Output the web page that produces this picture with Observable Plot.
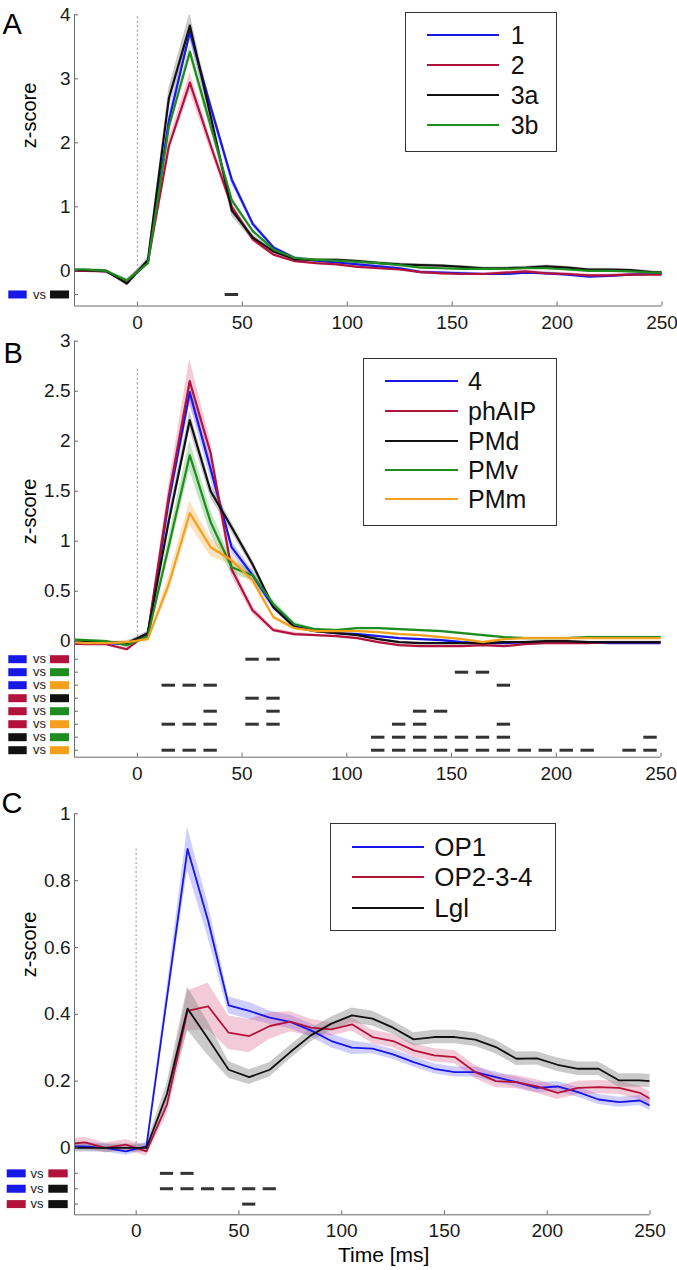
<!DOCTYPE html>
<html><head><meta charset="utf-8">
<script src="https://cdn.jsdelivr.net/npm/d3@7"></script>
<script src="https://cdn.jsdelivr.net/npm/@observablehq/plot@0.6"></script>
<style>
body{margin:0;background:#fff;font-family:"Liberation Sans",Arial,sans-serif}
#root{position:relative;width:677px;height:1270px;overflow:hidden;background:#fff}
.panel{position:absolute;left:0}
.legend{position:absolute;box-sizing:border-box;border:1px solid #333;background:#fff}
.lrow{position:absolute;left:0;right:0;height:30px;line-height:30px;color:#111}
.lline{position:absolute;top:14px;height:2.2px}
.ltext{position:absolute;top:0;white-space:nowrap}
</style></head><body><div id="root"></div><script>
// ---------------- data ----------------
const time = [-35,-25,-15,-5,5,15,25,35,45,55,65,75,85,95,105,115,125,135,145,155,165,175,185,195,205,215,225,235,245,255];
const xTicks = [0,50,100,150,200,250];

// Panel A
const aLabels = ["1","2","3a","3b"];
const aColors = ["blue","red","black","green"];
const a1  = [0.01,0.01,-0.01,-0.17,0.13,2.35,3.73,2.55,1.42,0.73,0.36,0.20,0.16,0.13,0.10,0.07,0.04,-0.02,-0.03,-0.04,-0.05,-0.05,-0.03,-0.04,-0.06,-0.09,-0.08,-0.06,-0.05,-0.05];
const a2  = [0.00,0.00,-0.01,-0.16,0.14,1.95,2.94,1.95,1.00,0.49,0.25,0.15,0.12,0.10,0.06,0.04,0.02,-0.02,-0.04,-0.05,-0.05,-0.03,-0.01,-0.04,-0.05,-0.07,-0.07,-0.06,-0.06,-0.06];
const a3a = [0.01,0.01,0.00,-0.20,0.17,2.70,3.83,2.40,0.94,0.52,0.30,0.18,0.17,0.17,0.15,0.12,0.10,0.09,0.08,0.06,0.04,0.04,0.05,0.07,0.05,0.02,0.02,0.01,-0.02,-0.03];
const a3b = [0.02,0.02,0.00,-0.15,0.12,2.25,3.42,2.25,1.10,0.62,0.33,0.20,0.17,0.16,0.14,0.12,0.09,0.05,0.04,0.03,0.03,0.03,0.04,0.04,0.02,0.00,0.00,-0.01,-0.03,-0.03];
const sa1  = [0.02,0.02,0.02,0.03,0.03,0.10,0.12,0.10,0.08,0.05,0.03,0.02,0.02,0.02,0.02,0.02,0.02,0.02,0.02,0.02,0.02,0.02,0.02,0.02,0.02,0.02,0.02,0.02,0.02,0.02];
const sa2  = [0.02,0.02,0.02,0.03,0.03,0.10,0.15,0.10,0.06,0.04,0.03,0.02,0.02,0.02,0.02,0.02,0.02,0.02,0.02,0.02,0.02,0.02,0.02,0.02,0.02,0.02,0.02,0.02,0.02,0.02];
const sa3a = [0.02,0.02,0.02,0.04,0.04,0.16,0.20,0.14,0.09,0.05,0.03,0.02,0.02,0.02,0.02,0.02,0.02,0.02,0.02,0.02,0.02,0.02,0.02,0.02,0.02,0.02,0.02,0.02,0.02,0.02];
const sa3b = [0.02,0.02,0.02,0.03,0.03,0.08,0.10,0.08,0.05,0.03,0.02,0.02,0.02,0.02,0.02,0.02,0.02,0.02,0.02,0.02,0.02,0.02,0.02,0.02,0.02,0.02,0.02,0.02,0.02,0.02];
const aYTicks = [0,1,2,3,4];
const aRows = [-0.37];
const aPairs = [["blue","black"]];
const aSig = [[45]];

// Panel B
const bLabels = ["4","phAIP","PMd","PMv","PMm"];
const bColors = ["blue","red","black","green","orange"];
const b4    = [0.00,-0.01,-0.02,-0.03,0.06,1.40,2.49,1.72,0.94,0.66,0.34,0.15,0.10,0.08,0.07,0.05,0.03,0.02,0.01,-0.01,-0.02,-0.02,-0.01,-0.01,-0.01,-0.01,-0.02,-0.02,-0.02,-0.02];
const bPhAIP= [-0.02,-0.03,-0.03,-0.08,0.08,1.45,2.60,1.88,0.72,0.31,0.11,0.07,0.06,0.05,0.03,-0.01,-0.04,-0.05,-0.05,-0.05,-0.04,-0.05,-0.03,-0.02,-0.02,-0.02,-0.01,-0.01,-0.01,-0.01];
const bPMd  = [0.00,-0.01,-0.01,-0.02,0.08,1.20,2.21,1.50,1.14,0.77,0.34,0.14,0.10,0.08,0.06,0.02,-0.01,-0.02,-0.02,-0.02,-0.02,-0.01,-0.01,0.00,0.00,-0.01,-0.01,-0.01,-0.01,-0.01];
const bPMv  = [0.02,0.01,0.00,-0.04,0.05,0.95,1.86,1.19,0.74,0.66,0.37,0.17,0.12,0.11,0.13,0.13,0.12,0.11,0.10,0.08,0.06,0.04,0.03,0.03,0.03,0.04,0.04,0.04,0.04,0.04];
const bPMm  = [0.00,-0.02,-0.02,-0.01,0.02,0.57,1.28,0.94,0.81,0.61,0.24,0.13,0.10,0.10,0.10,0.09,0.07,0.06,0.04,0.02,-0.01,0.02,0.03,0.03,0.03,0.03,0.03,0.03,0.03,0.03];
const sb4    = [0.01,0.01,0.01,0.02,0.02,0.10,0.12,0.10,0.06,0.05,0.03,0.02,0.01,0.01,0.01,0.01,0.01,0.01,0.01,0.01,0.01,0.01,0.01,0.01,0.01,0.01,0.01,0.01,0.01,0.01];
const sbPhAIP= [0.01,0.01,0.01,0.02,0.02,0.12,0.22,0.12,0.07,0.04,0.02,0.02,0.01,0.01,0.01,0.01,0.01,0.01,0.01,0.01,0.01,0.01,0.01,0.01,0.01,0.01,0.01,0.01,0.01,0.01];
const sbPMd  = [0.01,0.01,0.01,0.02,0.02,0.07,0.09,0.07,0.05,0.04,0.02,0.02,0.01,0.01,0.01,0.01,0.01,0.01,0.01,0.01,0.01,0.01,0.01,0.01,0.01,0.01,0.01,0.01,0.01,0.01];
const sbPMv  = [0.01,0.01,0.01,0.02,0.02,0.10,0.15,0.12,0.07,0.05,0.04,0.02,0.01,0.01,0.01,0.01,0.01,0.01,0.01,0.01,0.01,0.01,0.01,0.01,0.01,0.01,0.01,0.01,0.01,0.01];
const sbPMm  = [0.01,0.01,0.01,0.02,0.02,0.08,0.12,0.09,0.05,0.04,0.02,0.02,0.01,0.01,0.01,0.01,0.01,0.01,0.01,0.01,0.01,0.01,0.01,0.01,0.01,0.01,0.01,0.01,0.01,0.01];
const bYTicks = [0,0.5,1,1.5,2,2.5,3];
const bRows = [-0.18,-0.31,-0.44,-0.57,-0.70,-0.83,-0.96,-1.09];
const bPairs = [["blue","red"],["blue","green"],["blue","orange"],["red","black"],["red","green"],["red","orange"],["black","green"],["black","orange"]];
const bSig = [
  [55,65],
  [155,165],
  [15,25,35,175],
  [55,65],
  [35,65,135,145],
  [15,25,35,55,65,125,135,175],
  [115,125,135,145,155,165,175,245],
  [15,25,35,115,125,135,145,155,165,175,185,195,205,215,235,245]
];

// Panel C
const cLabels = ["OP1","OP2-3-4","Lgl"];
const cColors = ["blue","red","black"];
const cOP1   = [0.005,0.005,0.0,-0.01,0.005,0.45,0.895,0.68,0.427,0.41,0.39,0.377,0.352,0.32,0.30,0.297,0.28,0.257,0.237,0.227,0.227,0.212,0.197,0.18,0.184,0.167,0.145,0.137,0.142,0.112];
const cOP234 = [0.01,0.017,0.0,0.01,-0.01,0.13,0.41,0.424,0.345,0.335,0.365,0.378,0.36,0.355,0.37,0.332,0.32,0.292,0.277,0.272,0.227,0.20,0.197,0.184,0.165,0.18,0.182,0.18,0.165,0.13];
const cLgl   = [0.0,0.0,0.0,0.0,0.0,0.162,0.417,0.327,0.234,0.212,0.234,0.287,0.337,0.372,0.397,0.387,0.36,0.325,0.332,0.332,0.324,0.302,0.267,0.268,0.249,0.237,0.237,0.202,0.202,0.198];
const scOP1   = [0.012,0.012,0.012,0.012,0.012,0.03,0.065,0.05,0.025,0.025,0.02,0.02,0.02,0.02,0.02,0.015,0.015,0.015,0.015,0.015,0.015,0.015,0.015,0.015,0.015,0.015,0.015,0.015,0.015,0.015];
const scOP234 = [0.015,0.015,0.015,0.015,0.015,0.03,0.06,0.07,0.05,0.05,0.04,0.03,0.025,0.02,0.02,0.02,0.02,0.02,0.02,0.02,0.02,0.02,0.02,0.02,0.02,0.02,0.02,0.02,0.02,0.02];
const scLgl   = [0.012,0.012,0.012,0.012,0.012,0.03,0.065,0.05,0.025,0.022,0.022,0.02,0.02,0.02,0.022,0.022,0.02,0.02,0.02,0.02,0.02,0.02,0.02,0.02,0.02,0.02,0.02,0.02,0.02,0.02];
const cYTicks = [0,0.2,0.4,0.6,0.8,1];
const cRows = [-0.076,-0.122,-0.168];
const cPairs = [["blue","red"],["blue","black"],["red","black"]];
const cSig = [[15,25],[15,25,35,45,55,65],[55]];

// ---------------- styling ----------------
const palette = {blue:"#1717e8", red:"#b3123d", black:"#111111", green:"#1e8c1e", orange:"#f4a01c"};
const bandFill = {blue:"#3a3aff", red:"#d8507a", black:"#8a8a8a", green:"#3caa3c", orange:"#f6b04a"};
const bandOpacity = {blue:0.25, red:0.3, black:0.45, green:0.3, orange:0.35};
const axisColor = "#6a6a6a";
const textColor = "#1a1a1a";
const FONT = "'Liberation Sans', Arial, Helvetica, sans-serif";
const fmt = d3.format("~g");

function makePanel(cfg) {
  const marks = [];
  cfg.series.forEach((s) => {
    const d = time.map((t, i) => ({t, lo: s.v[i] - s.s[i], hi: s.v[i] + s.s[i]}));
    marks.push(Plot.areaY(d, {x: "t", y1: "lo", y2: "hi", fill: bandFill[s.c], fillOpacity: bandOpacity[s.c], clip: true}));
  });
  marks.push(Plot.ruleX([0], {y1: 0, y2: cfg.zeroTop, stroke: "#a8a8a8", strokeWidth: 1.3, strokeDasharray: "2,2.5"}));
  cfg.series.forEach((s) => {
    const d = time.map((t, i) => ({t, v: s.v[i]}));
    marks.push(Plot.line(d, {x: "t", y: "v", stroke: palette[s.c], strokeWidth: cfg.lw, clip: true}));
  });
  // significance dashes
  const dashes = [];
  cfg.sig.forEach((ts, r) => ts.forEach((t) => dashes.push({t, y: cfg.rows[r]})));
  marks.push(Plot.ruleY(dashes, {y: "y", x1: (d) => d.t - 3.2, x2: (d) => d.t + 3.2, stroke: "#333", strokeWidth: 3}));
  // pair swatches + "vs"
  const sw = cfg.rows.map((y, i) => ({y, a: palette[cfg.pairs[i][0]], b: palette[cfg.pairs[i][1]]}));
  marks.push(Plot.ruleY(sw, {y: "y", x1: -30, x2: -30, insetLeft: cfg.sw[0], insetRight: cfg.sw[1], stroke: (d) => d.a, strokeWidth: 8}));
  marks.push(Plot.ruleY(sw, {y: "y", x1: -30, x2: -30, insetLeft: cfg.sw[2], insetRight: cfg.sw[3], stroke: (d) => d.b, strokeWidth: 8}));
  marks.push(Plot.text(sw, {y: "y", x: -30, dx: cfg.vsDx, text: () => "vs", fontSize: 13, textAnchor: "middle", fill: textColor}));
  // axes
  marks.push(Plot.ruleX([-30], {stroke: axisColor}));
  marks.push(Plot.ruleY([cfg.yDomain[0]], {stroke: axisColor}));
  marks.push(Plot.axisY(cfg.yTicks, {anchor: "left", tickSize: -4, tickPadding: 8, tickFormat: fmt, stroke: axisColor, fill: textColor, fontSize: 19, label: null}));
  marks.push(Plot.axisY(cfg.rows, {anchor: "left", tickSize: -4, tickFormat: () => "", stroke: axisColor, label: null}));
  marks.push(Plot.axisX(xTicks, {anchor: "bottom", tickSize: -4, tickPadding: 13, tickFormat: fmt, stroke: axisColor, fill: textColor, fontSize: 19, label: null}));
  // labels
  marks.push(Plot.text([cfg.label], {text: (d) => d, frameAnchor: "top-left", textAnchor: "start", lineAnchor: "top", dx: cfg.labelDx, dy: cfg.labelDy, fontSize: 29, fill: "#000"}));
  marks.push(Plot.text(["z-score"], {text: (d) => d, frameAnchor: "left", rotate: -90, textAnchor: "middle", dx: -45, dy: cfg.zDy, fontSize: 20, fill: "#000"}));
  if (cfg.xlabel) marks.push(Plot.text([cfg.xlabel], {text: (d) => d, frameAnchor: "bottom", lineAnchor: "top", dx: 21.5, dy: 32.4, fontSize: 21, fill: "#000"}));

  const svg = Plot.plot({
    width: 677, height: cfg.height,
    marginLeft: 74, marginRight: cfg.marginRight, marginTop: cfg.marginTop, marginBottom: cfg.marginBottom,
    x: {domain: [-30, 250]},
    y: {domain: cfg.yDomain},
    color: {type: "identity"},
    style: {fontFamily: FONT, fontSize: "18px", background: "transparent", overflow: "visible", color: textColor},
    marks
  });
  svg.classList.add("panel");
  svg.style.top = cfg.top + "px";
  return svg;
}

function makeLegend(cfg) {
  const box = document.createElement("div");
  box.className = "legend";
  Object.assign(box.style, {left: cfg.left + "px", top: cfg.top + "px", width: cfg.width + "px", height: cfg.height + "px"});
  cfg.labels.forEach((lab, i) => {
    const row = document.createElement("div");
    row.className = "lrow";
    row.style.top = (cfg.rowY[i] - 15) + "px";
    const ln = document.createElement("div");
    ln.className = "lline";
    Object.assign(ln.style, {left: cfg.lineX[0] + "px", width: (cfg.lineX[1] - cfg.lineX[0]) + "px", background: palette[cfg.colors[i]]});
    const tx = document.createElement("div");
    tx.className = "ltext";
    Object.assign(tx.style, {left: cfg.textX + "px", fontSize: cfg.font + "px", fontFamily: FONT});
    tx.textContent = lab;
    row.appendChild(ln); row.appendChild(tx);
    box.appendChild(row);
  });
  return box;
}

const root = document.getElementById("root");

root.appendChild(makePanel({
  top: 0, height: 330, marginTop: 14.3, marginBottom: 24.5, marginRight: 15.5,
  yDomain: [-0.55, 4], yTicks: aYTicks, rows: aRows, pairs: aPairs, sig: aSig,
  series: [{v: a1, s: sa1, c: "blue"}, {v: a2, s: sa2, c: "red"}, {v: a3a, s: sa3a, c: "black"}, {v: a3b, s: sa3b, c: "green"}],
  lw: 2.2, zeroTop: 4, label: "A", labelDx: -72, labelDy: -1.3, zDy: -45,
  sw: [-65.7, 47.3, -24, 5], vsDx: -35
}));
root.appendChild(makePanel({
  top: 330, height: 450, marginTop: 10.7, marginBottom: 23.3, marginRight: 16.5,
  yDomain: [-1.16, 3], yTicks: bYTicks, rows: bRows, pairs: bPairs, sig: bSig,
  series: [{v: b4, s: sb4, c: "blue"}, {v: bPhAIP, s: sbPhAIP, c: "red"}, {v: bPMd, s: sbPMd, c: "black"}, {v: bPMv, s: sbPMv, c: "green"}, {v: bPMm, s: sbPMm, c: "orange"}],
  lw: 2.2, zeroTop: 2.72, label: "B", labelDx: -71, labelDy: 1.3, zDy: -37.7,
  sw: [-65.7, 47.3, -24, 5], vsDx: -35
}));
root.appendChild(makePanel({
  top: 780, height: 490, marginTop: 33.3, marginBottom: 55.7, marginRight: 27.5,
  yDomain: [-0.2, 1], yTicks: cYTicks, rows: cRows, pairs: cPairs, sig: cSig,
  series: [{v: cOP1, s: scOP1, c: "blue"}, {v: cOP234, s: scOP234, c: "red"}, {v: cLgl, s: scLgl, c: "black"}],
  lw: 1.8, zeroTop: 0.9, label: "C", labelDx: -73, labelDy: -21.3, zDy: -69.8,
  sw: [-67.3, 48.3, -25.7, 6.3], vsDx: -37.5, xlabel: "Time [ms]"
}));

root.appendChild(makeLegend({left: 405, top: 12, width: 152, height: 140, labels: aLabels, colors: aColors, rowY: [22, 52, 82.3, 112], lineX: [21.4, 93], textX: 104.7, font: 25}));
root.appendChild(makeLegend({left: 363, top: 358, width: 194, height: 168, labels: bLabels, colors: bColors, rowY: [22, 52, 82, 111.3, 140.3], lineX: [21, 94], textX: 104, font: 25}));
root.appendChild(makeLegend({left: 330, top: 823, width: 226, height: 108, labels: cLabels, colors: cColors, rowY: [22.7, 53, 83.7], lineX: [20.7, 93.3], textX: 103.3, font: 26}));
</script></body></html>
